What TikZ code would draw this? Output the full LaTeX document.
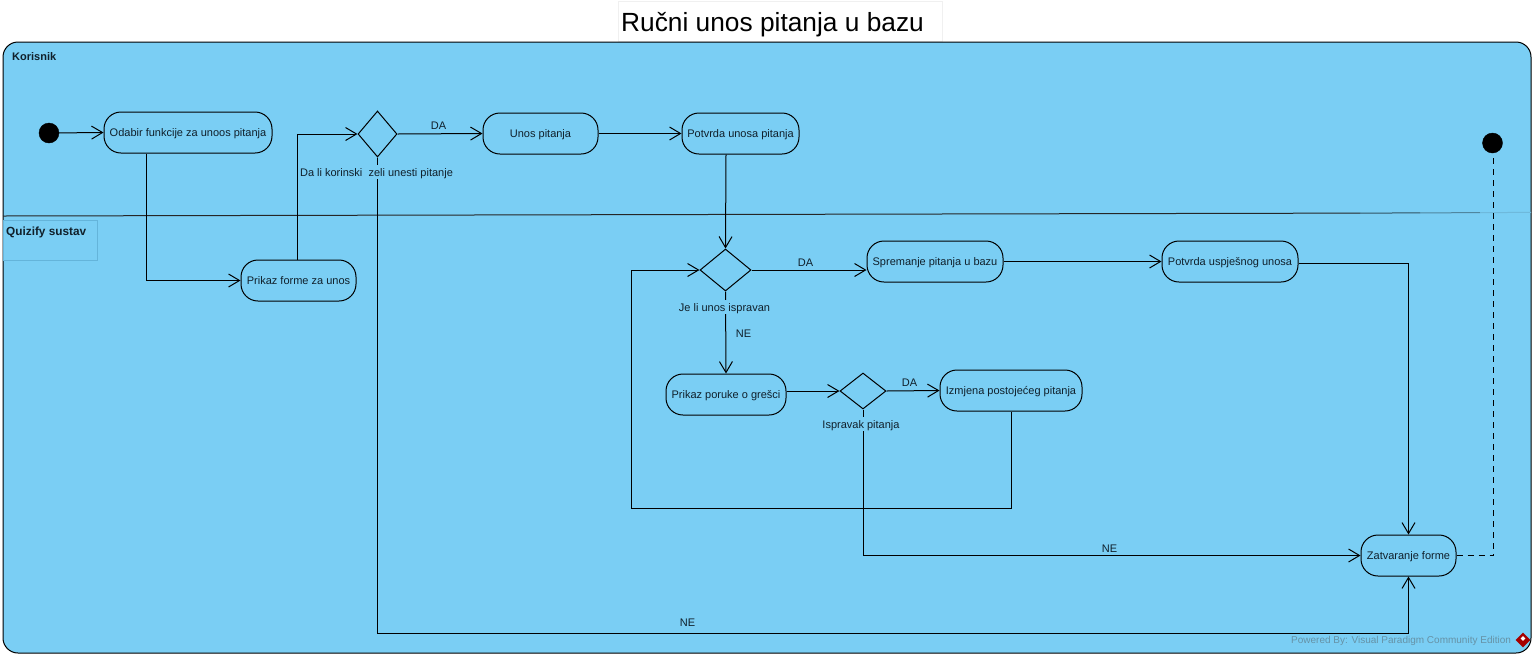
\documentclass[tikz,border=0pt]{standalone}
\usepackage{fontspec}
\setmainfont{Liberation Sans}
\usepackage{xcolor}
\usetikzlibrary{positioning, arrows.meta, shapes.geometric}
\definecolor{lanecol}{HTML}{7ACEF4}
\definecolor{inkcol}{HTML}{10202B}
\definecolor{headcol}{HTML}{64B4DA}

\begin{document}
\begin{tikzpicture}[
  x=1pt, y=-1pt,
  actbox/.style = {
    rectangle, draw=black, fill=lanecol, line width=1pt,
    rounded corners=17pt, align=center, inner sep=0pt,
    minimum height=41pt, text=inkcol,
    text height=9pt, text depth=1pt,
    font=\fontsize{11}{12}\selectfont},
  decbox/.style = {
    diamond, draw=black, fill=lanecol, line width=1pt,
    inner sep=0pt},
  dotnode/.style = {
    circle, fill=black, draw=black, inner sep=0pt,
    minimum size=20pt},
  arr/.style  = {-{Straight Barb[length=11pt,width=13pt,line width=1pt]},
                 line width=1pt},
  lbl/.style  = {font=\fontsize{11}{12}\selectfont, text=inkcol,
                 text height=9pt, text depth=1pt, inner sep=1pt},
  condlbl/.style = {lbl, fill=lanecol, inner ysep=2pt}
]
\useasboundingbox (0,0) rectangle (1535,657);

%── Title and lane ───────────────────────────────────────────────
\node[draw=black!6, fill=white, minimum width=324pt, minimum height=40pt,
      inner sep=0pt] (titlebox) at (780,21) {};
\node[anchor=west, inner sep=0pt, font=\fontsize{26.3}{30}\selectfont]
  (title) at (621,25) {Ručni unos pitanja u bazu};

\node[draw=black, fill=lanecol, line width=1pt, rounded corners=15pt,
      minimum width=1528pt, minimum height=611pt, inner sep=0pt]
  (lane) at (767,347.5) {};
\node[anchor=west, inner sep=0pt, text=inkcol,
      font=\fontsize{11}{12}\selectfont\bfseries]
  (lanea) at (12,56.5) {Korisnik};

%── Second lane heading ──────────────────────────────────────────
\node[draw=headcol, minimum width=94pt, minimum height=40pt,
      inner sep=0pt] (laneb) at (50,240) {};
\node[anchor=west, inner sep=0pt, text=inkcol,
      font=\fontsize{11.8}{12}\selectfont\bfseries]
  (lanebt) at (6,232) {Quizify sustav};

\coordinate (divl) at (3,216);
\coordinate (divm) at (1360,213.1);
\coordinate (divn) at (1420,212.9);
\coordinate (divo) at (1480,212.6);
\coordinate (divr) at (1531,212.4);
\draw[line width=1pt, black!85] (divl) -- (divm);
\draw[line width=1pt, black!60!lanecol] (divm) -- (divn);
\draw[line width=1pt, black!35!lanecol] (divn) -- (divo);
\draw[line width=1pt, black!10!lanecol] (divo) -- (divr);

%── Upper lane nodes ─────────────────────────────────────────────
\node[dotnode] (start) at (49,133) {};

\node[actbox, minimum width=168pt] (odabir) at (188,132.5)
  {Odabir funkcije za unoos pitanja};

\node[decbox, minimum width=39pt, minimum height=46pt] (dec1) at (377.5,134) {};

\node[actbox, minimum width=115pt] (unos) at (540.5,133.5) {Unos pitanja};

\node[actbox, minimum width=117pt] (potvrda) at (740.5,133.5)
  {Potvrda unosa pitanja};

\node[dotnode] (kraj) at (1492.5,143) {};

%── Lower lane nodes ─────────────────────────────────────────────
\node[actbox, minimum width=115pt] (forma) at (298.5,280.5)
  {Prikaz forme za unos};

\node[decbox, minimum width=51pt, minimum height=42pt] (dec2) at (725.5,270) {};

\node[actbox, minimum width=136pt] (sprem) at (935,261.5)
  {Spremanje pitanja u bazu};

\node[actbox, minimum width=136pt] (uspjeh) at (1230,261.5)
  {Potvrda uspješnog unosa};

\node[actbox, minimum width=120pt] (greska) at (726,394.5)
  {Prikaz poruke o grešci};

\node[decbox, minimum width=46pt, minimum height=36pt] (dec3) at (863,391) {};

\node[actbox, minimum width=142pt] (izmjena) at (1011,390.5)
  {Izmjena postojećeg pitanja};

\node[actbox, minimum width=95pt] (zatv) at (1408.5,555.5)
  {Zatvaranje forme};

\coordinate (loopb) at (631,508);

%── Connectors ───────────────────────────────────────────────────
\draw[arr] (start) -- (odabir.west);
\draw[arr] ([xshift=-42pt]odabir.south) |- (forma.west);
\draw[arr] ([xshift=-1.5pt]forma.north) |- (dec1.west);
\draw[arr] (dec1.east) -- (unos.west);
\draw[arr] (unos.east) -- (potvrda.west);
\draw[arr] (dec1.south) -- ++(0,476) -| (zatv.south);
\draw[arr] ([xshift=-14.5pt]potvrda.south) -- (dec2.north);
\draw[arr] (dec2.east) -- ([yshift=-8.5pt]sprem.west);
\draw[arr] (sprem.east) -- (uspjeh.west);
\draw[arr] ([yshift=-2pt]uspjeh.east) -| (zatv.north);
\draw[arr] (dec2.south) -- (greska.north);
\draw[arr] ([yshift=3.5pt]greska.east) -- (dec3.west);
\draw[arr] (dec3.east) -- (izmjena.west);
\draw[arr] (izmjena.south) |- (loopb) |- (dec2.west);
\draw[arr] (dec3.south) |- (zatv.west);
\draw[line width=1pt, dash pattern=on 6pt off 5pt]
  (zatv.east) -| ([xshift=1pt]kraj.south);

%── Labels ───────────────────────────────────────────────────────
\node[condlbl] (cond1) at (376.5,172) {Da li korinski\ \ zeli unesti pitanje};
\node[condlbl] (cond2) at (724.5,307) {Je li unos ispravan};
\node[condlbl] (cond3) at (861,424) {Ispravak pitanja};

\node[lbl] (da1) at (438.5,125) {DA};
\node[lbl] (da2) at (805.5,262) {DA};
\node[lbl] (da3) at (909.5,382) {DA};
\node[lbl] (ne1) at (743.5,333) {NE};
\node[lbl] (ne2) at (1109.5,548) {NE};
\node[lbl] (ne3) at (687.5,622) {NE};

%── Footer mark ──────────────────────────────────────────────────
\node[anchor=west, inner sep=0pt, text=black!25!lanecol!70!gray,
      font=\fontsize{10}{12}\selectfont] (powered) at (1291,640.5)
  {Powered By: Visual Paradigm Community Edition};
\node[diamond, fill=red!65!black, minimum size=15pt, inner sep=0pt] (logo)
  at (1523,640) {};
\node[diamond, fill=white, minimum size=5pt, inner sep=0pt] (logoin)
  at (1523,638.5) {};

\end{tikzpicture}
\end{document}
